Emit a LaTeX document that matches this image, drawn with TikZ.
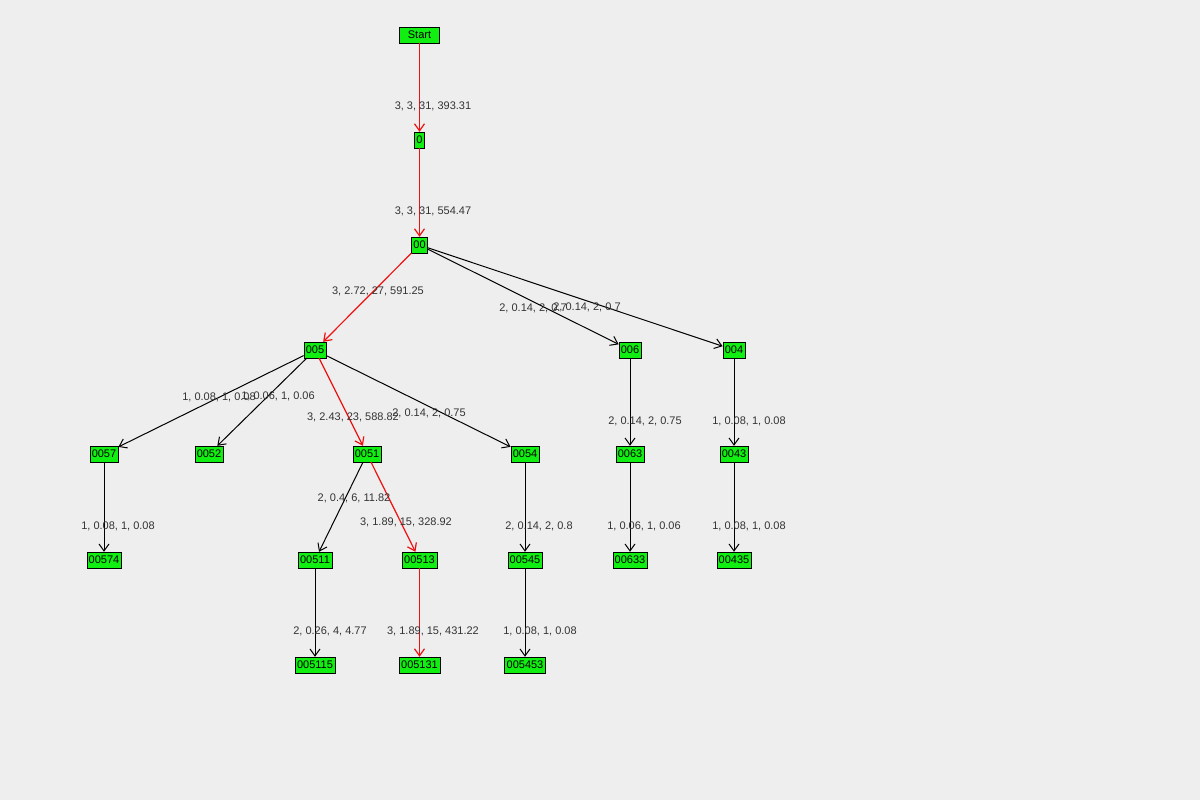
\documentclass[tikz,border=0pt]{standalone}
\usepackage{fontspec}
\setmainfont{Liberation Sans}
\usetikzlibrary{arrows.meta}
\definecolor{bg}{HTML}{EEEEEE}
\definecolor{gn}{HTML}{11EE11}
\definecolor{lb}{HTML}{333333}
\definecolor{rd}{HTML}{EE1111}
\begin{document}
\begin{tikzpicture}[x=1pt,y=-1pt,
 nd/.style={draw=black,fill=gn,inner xsep=2pt,inner ysep=1pt,minimum height=16pt,font=\fontsize{11}{11}\selectfont},
 lab/.style={font=\fontsize{11}{11}\selectfont,text=lb,inner sep=0pt},
 ed/.style={draw=black,line width=1pt,-{Straight Barb[length=7pt,width=10pt]}},
 re/.style={draw=rd,line width=1.2pt,-{Straight Barb[length=7pt,width=10pt]}}]
\fill[bg] (0,0) rectangle (1200,800);
\useasboundingbox (0,0) rectangle (1200,800);
\node[nd,minimum width=40pt] (s) at (419.5,35) {Start};
\node[nd] (n0) at (419.5,140) {0};
\node[nd] (n00) at (419.5,245) {00};
\node[nd] (n005) at (315,350) {005};
\node[nd] (n006) at (630,350) {006};
\node[nd] (n004) at (734,350) {004};
\node[nd] (n0057) at (104,454) {0057};
\node[nd] (n0052) at (209,454) {0052};
\node[nd] (n0051) at (367,454) {0051};
\node[nd] (n0054) at (525,454) {0054};
\node[nd] (n0063) at (630,454) {0063};
\node[nd] (n0043) at (734,454) {0043};
\node[nd] (n00574) at (104,560) {00574};
\node[nd] (n00511) at (315,560) {00511};
\node[nd] (n00513) at (419.5,560) {00513};
\node[nd] (n00545) at (525,560) {00545};
\node[nd] (n00633) at (630,560) {00633};
\node[nd] (n00435) at (734,560) {00435};
\node[nd] (n005115) at (315,665) {005115};
\node[nd] (n005131) at (419.5,665) {005131};
\node[nd] (n005453) at (525,665) {005453};
\draw[re] (s) -- (n0);
\draw[re] (n0) -- (n00);
\draw[re] (n00) -- (n005);
\draw[ed] (n00) -- (n006);
\draw[ed] (n00) -- (n004);
\draw[ed] (n005) -- (n0057);
\draw[ed] (n005) -- (n0052);
\draw[re] (n005) -- (n0051);
\draw[ed] (n005) -- (n0054);
\draw[ed] (n006) -- (n0063);
\draw[ed] (n004) -- (n0043);
\draw[ed] (n0057) -- (n00574);
\draw[ed] (n0051) -- (n00511);
\draw[re] (n0051) -- (n00513);
\draw[ed] (n0054) -- (n00545);
\draw[ed] (n0063) -- (n00633);
\draw[ed] (n0043) -- (n00435);
\draw[ed] (n00511) -- (n005115);
\draw[re] (n00513) -- (n005131);
\draw[ed] (n00545) -- (n005453);
\node[lab] (l1) at (433,106) {3, 3, 31, 393.31};
\node[lab] (l2) at (433,211) {3, 3, 31, 554.47};
\node[lab] (l3) at (378,291) {3, 2.72, 27, 591.25};
\node[lab] (l4) at (533,308) {2, 0.14, 2, 0.7};
\node[lab] (l5) at (587,307) {2, 0.14, 2, 0.7};
\node[lab] (l6) at (219,397) {1, 0.08, 1, 0.08};
\node[lab] (l7) at (278,396) {1, 0.06, 1, 0.06};
\node[lab] (l8) at (353,417) {3, 2.43, 23, 588.82};
\node[lab] (l9) at (429,413) {2, 0.14, 2, 0.75};
\node[lab] (l10) at (645,421) {2, 0.14, 2, 0.75};
\node[lab] (l11) at (749,421) {1, 0.08, 1, 0.08};
\node[lab] (l12) at (118,526) {1, 0.08, 1, 0.08};
\node[lab] (l13) at (354,498) {2, 0.4, 6, 11.82};
\node[lab] (l14) at (406,522) {3, 1.89, 15, 328.92};
\node[lab] (l15) at (539,526) {2, 0.14, 2, 0.8};
\node[lab] (l16) at (644,526) {1, 0.06, 1, 0.06};
\node[lab] (l17) at (749,526) {1, 0.08, 1, 0.08};
\node[lab] (l18) at (330,631) {2, 0.26, 4, 4.77};
\node[lab] (l19) at (433,631) {3, 1.89, 15, 431.22};
\node[lab] (l20) at (540,631) {1, 0.08, 1, 0.08};
\end{tikzpicture}
\end{document}
